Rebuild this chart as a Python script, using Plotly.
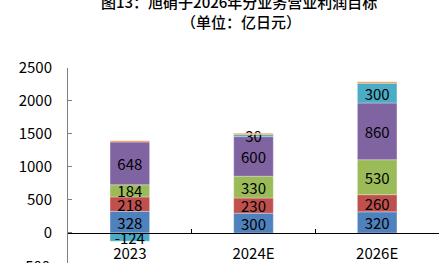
import plotly.graph_objects as go

categories = ["2023", "2024E", "2026E"]
seg_blue = [328, 300, 320]
seg_red = [218, 230, 260]
seg_green = [184, 330, 530]
seg_purple = [648, 600, 860]
seg_cyan = [-124, 30, 300]
seg_orange = [20, 20, 20]

series = [
    (seg_blue, "#4F81BD", True),
    (seg_red, "#C0504D", True),
    (seg_green, "#9BBB59", True),
    (seg_purple, "#8064A2", True),
    (seg_cyan, "#4BACC6", True),
    (seg_orange, "#F79646", False),
]

yticks = [0, 500, 1000, 1500, 2000, 2500]
y_lo, y_hi = -455, 2500
FONT = "Noto Sans CJK SC"

fig = go.Figure()
for vals, col, lab in series:
    fig.add_trace(go.Bar(
        x=categories, y=vals,
        marker=dict(color=col, line=dict(color="rgba(255,255,255,0.6)", width=0.5)),
        text=[str(v) for v in vals] if lab else None,
        textposition="inside" if lab else "none",
        insidetextanchor="middle",
        textangle=0,
        constraintext="none",
        textfont=dict(family=FONT, size=15, color="#000000"),
        width=0.32,
        showlegend=False,
    ))

pos0 = (0 - y_lo) / (y_hi - y_lo)
fig.update_layout(
    width=441, height=263,
    barmode="relative",
    margin=dict(l=68, r=2, t=68, b=0),
    paper_bgcolor="white", plot_bgcolor="white",
    font=dict(family=FONT, size=15, color="#000000"),
    xaxis=dict(
        anchor="free", position=pos0,
        showline=True, linecolor="#000000", linewidth=1,
        ticks="inside", ticklen=4, tickcolor="#000000",
        tickson="boundaries", showgrid=False,
        tickfont=dict(family=FONT, size=15, color="#000000"),
        ticklabelstandoff=7,
    ),
    yaxis=dict(
        range=[y_lo, y_hi], tickvals=yticks,
        showline=True, linecolor="#808080", linewidth=1,
        ticks="inside", ticklen=4, tickcolor="#808080",
        showgrid=False, zeroline=False,
        tickfont=dict(family=FONT, size=15, color="#000000"),
        ticklabelstandoff=12,
    ),
)

fig.add_annotation(xref="paper", yref="paper", x=(239 - 68) / 371, y=1, yanchor="middle", yshift=67,
                   text="图13：旭硝子2026年分业务营业利润目标", showarrow=False,
                   font=dict(family=FONT, size=15, color="#000000", weight=500))
fig.add_annotation(xref="paper", yref="paper", x=(241 - 68) / 371, y=1, yanchor="middle", yshift=47,
                   text="（单位：亿日元）", showarrow=False,
                   font=dict(family=FONT, size=15, color="#000000", weight=500))
fig.add_annotation(xref="paper", yref="paper", x=0, xanchor="right", xshift=-16,
                   y=(-500 - y_lo) / (y_hi - y_lo), yanchor="middle",
                   text="-500", showarrow=False,
                   font=dict(family=FONT, size=15, color="#000000"))

fig.write_html("out.html")
